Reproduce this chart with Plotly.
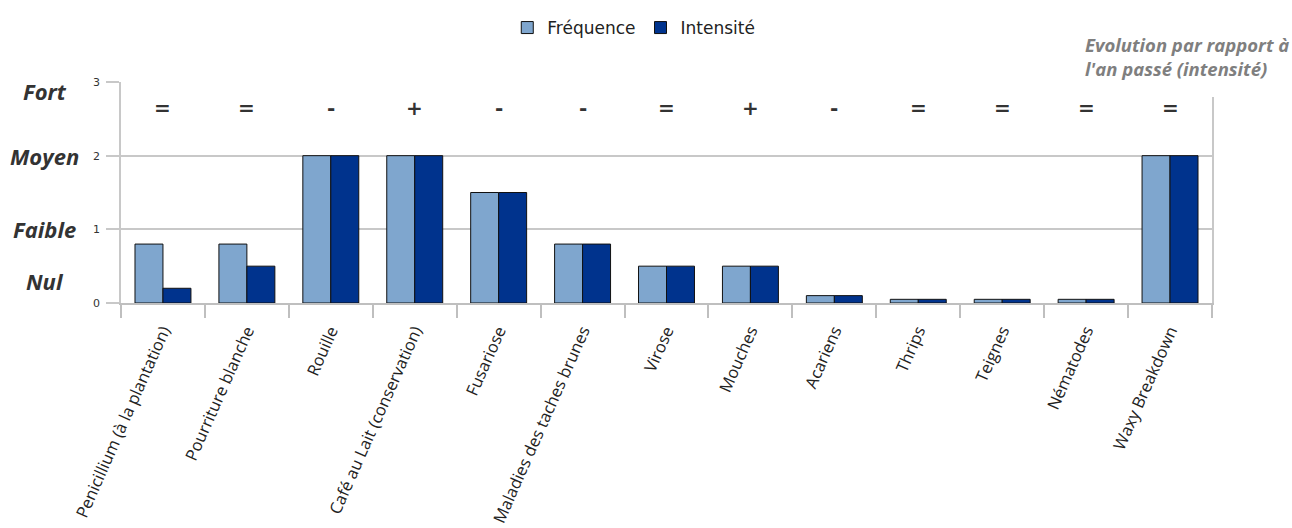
import plotly.graph_objects as go

categories = ["Penicillium (à la plantation)", "Pourriture blanche", "Rouille",
              "Café au Lait (conservation)", "Fusariose", "Maladies des taches brunes",
              "Virose", "Mouches", "Acariens", "Thrips", "Teignes", "Nématodes",
              "Waxy Breakdown"]
frequence = [0.8, 0.8, 2, 2, 1.5, 0.8, 0.5, 0.5, 0.1, 0.05, 0.05, 0.05, 2]
intensite = [0.2, 0.5, 2, 2, 1.5, 0.8, 0.5, 0.5, 0.1, 0.05, 0.05, 0.05, 2]
evolution = ["=", "=", "-", "+", "-", "-", "=", "+", "-", "=", "=", "=", "="]
level_labels = ["Fort", "Moyen", "Faible", "Nul"]
level_positions = [2.88, 2.0, 1.0, 0.3]
y_ticks = [0, 1, 2, 3]

fig = go.Figure()
fig.add_trace(go.Bar(x=categories, y=frequence, name="Fréquence",
                     marker=dict(color="#7FA6CE", line=dict(color="#111111", width=1))))
fig.add_trace(go.Bar(x=categories, y=intensite, name="Intensité",
                     marker=dict(color="#00338D", line=dict(color="#111111", width=1))))

annotations = []
for c, s in zip(categories, evolution):
    annotations.append(dict(x=c, y=2.65, xref="x", yref="y", text=f"<b>{s}</b>", showarrow=False,
                            font=dict(family="DejaVu Sans", size=20, color="#333333"),
                            yanchor="middle"))
for lab, pos in zip(level_labels, level_positions):
    annotations.append(dict(x=-0.07, y=pos, xref="paper", yref="y", text=f"<b><i>{lab}</i></b>",
                            showarrow=False, xanchor="center", yanchor="middle",
                            font=dict(family="Open Sans", size=22, color="#333333")))
annotations.append(dict(x=(1083 - 121) / 1091, y=1.0 + (82 - 30) / 221, xref="paper", yref="paper",
                        text="<b><i>Evolution par rapport à<br>l'an passé (intensité)</i></b>",
                        showarrow=False, xanchor="left", yanchor="top", align="left",
                        font=dict(family="Open Sans", size=18.5, color="#7F7F7F")))

shapes = [dict(type="rect", xref="paper", yref="paper",
               x0=(1064 - 121) / 1091, x1=(1300 - 121) / 1091,
               y0=(303 - 97) / 221, y1=1.5, fillcolor="white", line=dict(width=0),
               layer="above")]

fig.update_layout(
    width=1292, height=528,
    margin=dict(l=121, r=80, t=82, b=225, autoexpand=False),
    plot_bgcolor="white", paper_bgcolor="white",
    barmode="group", bargap=1/3, bargroupgap=0,
    legend=dict(orientation="h", x=0.470, y=1.0 + (82 - 10) / 221,
                xanchor="center", yanchor="top",
                font=dict(family="DejaVu Sans", size=17, color="#222222"),
                itemwidth=30, traceorder="normal"),
    annotations=annotations,
    shapes=shapes,
    xaxis=dict(showline=True, linecolor="#BFBFBF", linewidth=1.5, ticks="outside",
               tickson="boundaries", ticklen=13, tickcolor="#BFBFBF", tickwidth=1.5,
               tickangle=-66, automargin=False, ticklabelstandoff=10,
               tickfont=dict(family="Open Sans", size=16.5, color="#222222")),
    yaxis=dict(range=[0, 3], tickvals=y_ticks, showgrid=True, gridcolor="#C8C8C8", gridwidth=1.5,
               showline=True, linecolor="#C8C8C8", linewidth=1.5, mirror=True,
               ticks="outside", ticklen=13, tickcolor="#C8C8C8", tickwidth=1.5,
               zeroline=False, automargin=False, ticklabelstandoff=4,
               tickfont=dict(family="DejaVu Sans", size=11, color="#333333")),
)

fig.write_html("out.html")
